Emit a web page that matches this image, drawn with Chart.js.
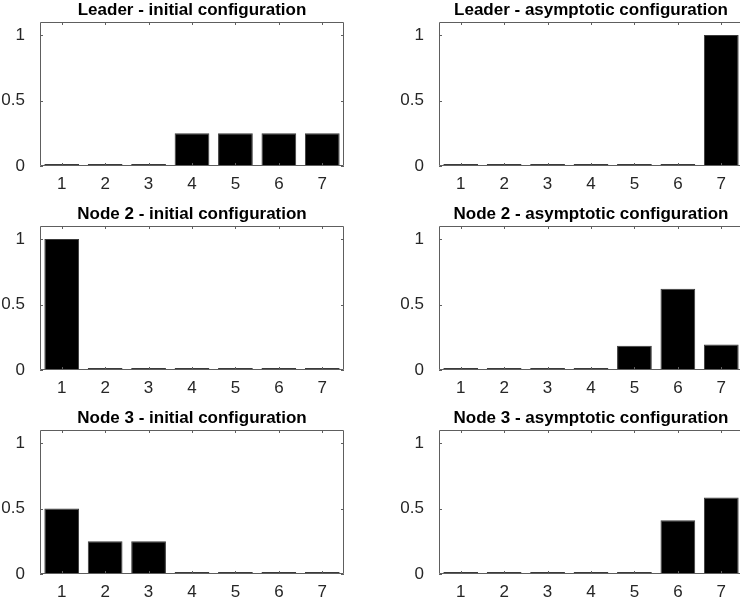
<!DOCTYPE html>
<html>
<head>
<meta charset="utf-8">
<title>Leader and node configurations</title>
<script src="https://cdn.jsdelivr.net/npm/chart.js@4"></script>
<style>
  html, body { margin: 0; padding: 0; background: #fff; overflow: hidden; }
  body { width: 740px; height: 600px; position: relative; }
  .panel { position: absolute; }
</style>
</head>
<body>
<script>
// Probability mass over the 7 states for each node
const states = ['1', '2', '3', '4', '5', '6', '7'];
const yTickValues = [0, 0.5, 1];

const leaderInitial = [0, 0, 0, 0.25, 0.25, 0.25, 0.25];
const leaderAsymptotic = [0, 0, 0, 0, 0, 0, 1];
const node2Initial = [1, 0, 0, 0, 0, 0, 0];
const node2Asymptotic = [0, 0, 0, 0, 0.185, 0.62, 0.195];
const node3Initial = [0.5, 0.25, 0.25, 0, 0, 0, 0];
const node3Asymptotic = [0, 0, 0, 0, 0.005, 0.41, 0.585];

const panelTitles = [
  'Leader - initial configuration', 'Leader - asymptotic configuration',
  'Node 2 - initial configuration', 'Node 2 - asymptotic configuration',
  'Node 3 - initial configuration', 'Node 3 - asymptotic configuration'
];
const panelData = [leaderInitial, leaderAsymptotic, node2Initial, node2Asymptotic, node3Initial, node3Asymptotic];

const FONT = '"Liberation Sans", Arial, Helvetica, sans-serif';
const AXIS_COLOR = '#5e5e5e';
const TEXT_COLOR = '#262626';

// axes box with inward ticks on all four sides
const frame = {
  id: 'frame',
  afterDatasetsDraw(chart) {
    const { ctx, chartArea: a, scales: { x, y } } = chart;
    const len = 3;
    ctx.save();
    ctx.strokeStyle = AXIS_COLOR;
    ctx.lineWidth = 1;
    ctx.beginPath();
    ctx.rect(a.left + 0.5, a.top + 0.5, a.right - a.left - 1, a.bottom - a.top - 1);
    x.ticks.forEach((t, i) => {
      const px = Math.round(x.getPixelForTick(i)) + 0.5;
      ctx.moveTo(px, a.bottom); ctx.lineTo(px, a.bottom - len);
      ctx.moveTo(px, a.top); ctx.lineTo(px, a.top + len);
    });
    y.ticks.forEach(t => {
      const py = Math.round(y.getPixelForValue(t.value)) + 0.5;
      ctx.moveTo(a.left, py); ctx.lineTo(a.left + len, py);
      ctx.moveTo(a.right, py); ctx.lineTo(a.right - len, py);
    });
    ctx.stroke();
    ctx.restore();
  }
};

const colLeft = [0, 399];
const rowTop = [-2, 202, 406];

panelTitles.forEach((title, i) => {
  const div = document.createElement('div');
  div.className = 'panel';
  div.style.left = colLeft[i % 2] + 'px';
  div.style.top = rowTop[Math.floor(i / 2)] + 'px';
  const canvas = document.createElement('canvas');
  canvas.width = 354;
  canvas.height = 198;
  div.appendChild(canvas);
  document.body.appendChild(div);

  new Chart(canvas, {
    type: 'bar',
    data: {
      labels: states,
      datasets: [{
        data: panelData[i],
        backgroundColor: '#000',
        borderColor: '#3a3a3a',
        borderWidth: 1,
        borderSkipped: false,
        barPercentage: 0.8,
        categoryPercentage: 1,
        minBarLength: 2
      }]
    },
    options: {
      responsive: false,
      animation: false,
      devicePixelRatio: 1,
      layout: { padding: { left: 0, right: 10, top: 0, bottom: 0 } },
      plugins: {
        legend: { display: false },
        tooltip: { enabled: false },
        title: {
          display: true,
          text: title,
          fullSize: false,
          color: '#000',
          font: { family: FONT, size: 17, weight: 'bold', lineHeight: '20px' },
          padding: { top: 2, bottom: 2 }
        }
      },
      scales: {
        x: {
          offset: true,
          grid: { display: false },
          border: { display: false },
          ticks: { color: TEXT_COLOR, font: { family: FONT, size: 17 }, padding: 0, maxRotation: 0 },
          afterFit(scale) { scale.height = 30; }
        },
        y: {
          min: 0,
          max: 1.1,
          grid: { display: false },
          border: { display: false },
          ticks: {
            color: TEXT_COLOR,
            font: { family: FONT, size: 17 },
            padding: 7,
            callback: v => String(v)
          },
          afterBuildTicks(scale) { scale.ticks = yTickValues.map(v => ({ value: v })); },
          afterFit(scale) { scale.width = 40; }
        }
      }
    },
    plugins: [frame]
  });
});
</script>
</body>
</html>
